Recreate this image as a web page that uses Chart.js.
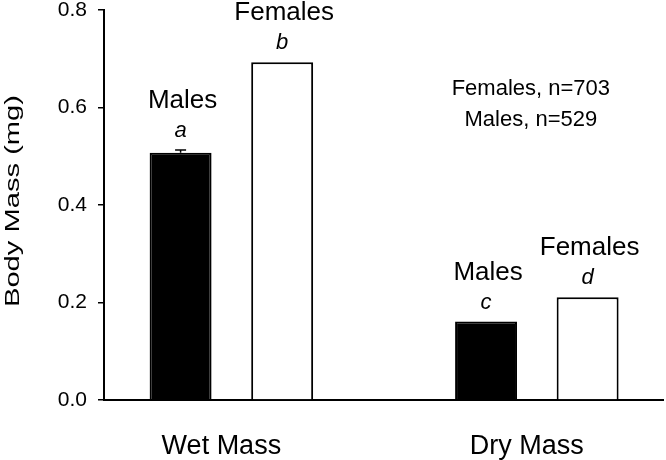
<!DOCTYPE html>
<html>
<head>
<meta charset="utf-8">
<script src="https://cdn.jsdelivr.net/npm/chart.js@4/dist/chart.umd.min.js"></script>
<style>
html,body{margin:0;padding:0;background:#fff;}
#wrap{width:666px;height:460px;}
</style>
</head>
<body>
<div id="wrap"><canvas id="c" width="666" height="460"></canvas></div>
<script>
// ---- data ----
const categories = ['Wet Mass', 'Dry Mass'];
const seriesNames = ['Males', 'Females'];
const maleMass = [0.507, 0.161];
const femaleMass = [0.693, 0.211];
const maleErr = [0.006, 0];
const femaleErr = [0, 0];
const maleLetters = ['a', 'c'];
const femaleLetters = ['b', 'd'];
const yTicks = [0.0, 0.2, 0.4, 0.6, 0.8];
const notes = ['Females, n=703', 'Males, n=529'];
const yTitle = 'Body Mass (mg)';

const FONT = '"Liberation Sans", Arial, sans-serif';

const toPoints = arr => arr.map((v, i) => ({ x: i, y: v }));

const annotatePlugin = {
  id: 'annotate',
  afterDatasetsDraw(chart) {
    const ctx = chart.ctx;
    const ys = chart.scales.y;
    chart.data.datasets.forEach((ds, d) => {
      const meta = chart.getDatasetMeta(d);
      meta.data.forEach((bar, i) => {
        let top = bar.y;
        const err = ds.errors[i];
        ctx.save();
        if (err > 0) {
          const et = ys.getPixelForValue(ds.data[i].y + err);
          ctx.strokeStyle = '#000';
          ctx.lineWidth = 1.5;
          ctx.beginPath();
          ctx.moveTo(bar.x, top);
          ctx.lineTo(bar.x, et);
          ctx.moveTo(bar.x - 5.5, et);
          ctx.lineTo(bar.x + 5.5, et);
          ctx.stroke();
          top = et;
        }
        ctx.fillStyle = '#000';
        ctx.textAlign = 'center';
        ctx.textBaseline = 'alphabetic';
        const letterY = top - 13;
        ctx.font = 'italic 22px ' + FONT;
        ctx.fillText(ds.letters[i], bar.x, letterY);
        ctx.font = '26px ' + FONT;
        ctx.fillText(ds.label, bar.x + 2, letterY - 29);
        ctx.restore();
      });
    });
    // sample size notes
    const xs = chart.scales.x;
    const nx = xs.getPixelForValue(1) - 6;
    ctx.save();
    ctx.fillStyle = '#000';
    ctx.font = '22px ' + FONT;
    ctx.textAlign = 'center';
    ctx.textBaseline = 'alphabetic';
    ctx.fillText(notes[0], nx, ys.getPixelForValue(0.625));
    ctx.fillText(notes[1], nx, ys.getPixelForValue(0.563));
    ctx.restore();
  },
  afterDraw(chart) {
    const ctx = chart.ctx;
    const ca = chart.chartArea;
    ctx.save();
    ctx.translate(19, (ca.top + ca.bottom) / 2 - 4);
    ctx.rotate(-Math.PI / 2);
    ctx.font = '20px ' + FONT;
    const w = ctx.measureText(yTitle).width;
    ctx.scale(212 / w, 1);
    ctx.fillStyle = '#000';
    ctx.textAlign = 'center';
    ctx.textBaseline = 'alphabetic';
    ctx.fillText(yTitle, 0, 0);
    ctx.restore();
  }
};

new Chart(document.getElementById('c'), {
  type: 'bar',
  data: {
    datasets: [
      {
        label: seriesNames[0],
        data: toPoints(maleMass),
        errors: maleErr,
        letters: maleLetters,
        backgroundColor: '#000',
        borderColor: '#000',
        borderWidth: 2
      },
      {
        label: seriesNames[1],
        data: toPoints(femaleMass),
        errors: femaleErr,
        letters: femaleLetters,
        backgroundColor: '#fff',
        borderColor: '#000',
        borderWidth: 2
      }
    ]
  },
  options: {
    responsive: false,
    animation: false,
    devicePixelRatio: 1,
    layout: { padding: { left: 0, right: 3, top: 0, bottom: 0 } },
    categoryPercentage: 0.665,
    barPercentage: 0.61,
    plugins: { legend: { display: false }, tooltip: { enabled: false } },
    scales: {
      x: {
        type: 'linear',
        min: -0.417,
        max: 1.413,
        offset: false,
        afterBuildTicks: s => { s.ticks = categories.map((_, i) => ({ value: i })); },
        afterFit: s => { s.height = 60; s.paddingLeft = 0; s.paddingRight = 0; },
        grid: { display: true, drawOnChartArea: false, drawTicks: false, offset: false },
        border: { display: true, color: '#000', width: 2 },
        ticks: {
          color: '#000',
          font: { family: FONT, size: 27 },
          padding: 30,
          labelOffset: -10,
          maxRotation: 0,
          autoSkip: false,
          callback: v => categories[v]
        }
      },
      y: {
        min: 0,
        max: 0.8,
        afterBuildTicks: s => { s.ticks = yTicks.map(v => ({ value: v })); },
        afterFit: s => { s.width = 104; s.paddingTop = 10; s.paddingBottom = 0; },
        grid: { display: true, drawOnChartArea: false, drawTicks: true, tickLength: 6, color: '#000', lineWidth: 1.5 },
        border: { display: true, color: '#000', width: 2 },
        ticks: {
          color: '#000',
          font: { family: FONT, size: 21, lineHeight: 1.0 },
          padding: 11,
          callback: v => v.toFixed(1)
        }
      }
    }
  },
  plugins: [annotatePlugin]
});
</script>
</body>
</html>
